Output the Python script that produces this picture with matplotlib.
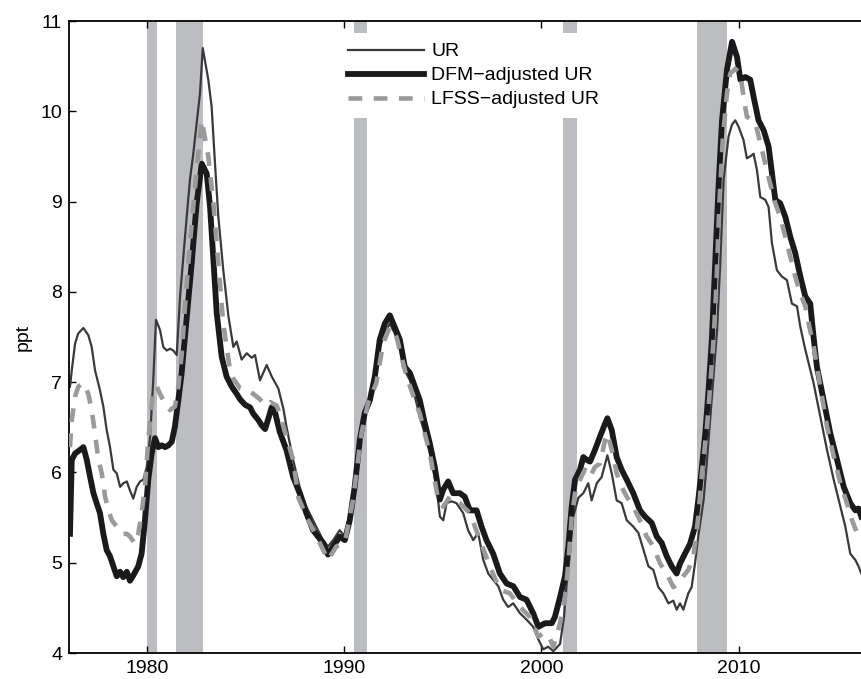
import matplotlib
matplotlib.use("Agg")
import matplotlib.pyplot as plt

# values
ur_years = [1976.11, 1976.20, 1976.37, 1976.53, 1976.79, 1977.04, 1977.21, 1977.38, 1977.63, 1977.80,
            1977.97, 1978.14, 1978.31, 1978.48, 1978.65, 1978.81, 1978.99, 1979.15, 1979.32, 1979.49,
            1979.66, 1979.83, 1980.00, 1980.17, 1980.33, 1980.47, 1980.67, 1980.84, 1981.01, 1981.18,
            1981.35, 1981.52, 1981.69, 1981.94, 1982.19, 1982.36, 1982.70, 1982.84, 1983.12, 1983.29,
            1983.46, 1983.63, 1983.88, 1984.14, 1984.39, 1984.56, 1984.81, 1985.07, 1985.32, 1985.49,
            1985.74, 1986.08, 1986.34, 1986.67, 1986.93, 1987.08, 1987.42, 1987.75, 1988.09, 1988.43,
            1988.68, 1988.94, 1989.19, 1989.45, 1989.78, 1990.04, 1990.29, 1990.54, 1990.80, 1991.05,
            1991.31, 1991.56, 1991.81, 1992.07, 1992.32, 1992.57, 1992.83, 1993.08, 1993.34, 1993.59,
            1993.84, 1994.18, 1994.43, 1994.69, 1994.86, 1995.03, 1995.20, 1995.45, 1995.70, 1996.04,
            1996.29, 1996.55, 1996.80, 1997.06, 1997.31, 1997.56, 1997.82, 1998.07, 1998.32, 1998.58,
            1998.92, 1999.25, 1999.59, 1999.85, 2000.10, 2000.35, 2000.61, 2000.95, 2001.15, 2001.28,
            2001.45, 2001.62, 2001.88, 2002.13, 2002.38, 2002.55, 2002.81, 2003.06, 2003.35, 2003.57,
            2003.82, 2004.07, 2004.33, 2004.66, 2004.92, 2005.18, 2005.43, 2005.68, 2005.93, 2006.19,
            2006.44, 2006.69, 2006.86, 2007.03, 2007.20, 2007.45, 2007.62, 2007.79, 2007.96, 2008.23,
            2008.40, 2008.57, 2008.74, 2008.91, 2009.07, 2009.24, 2009.49, 2009.66, 2009.83, 2010.00,
            2010.25, 2010.42, 2010.59, 2010.76, 2010.93, 2011.10, 2011.35, 2011.52, 2011.69, 2011.94,
            2012.19, 2012.45, 2012.70, 2012.96, 2013.13, 2013.38, 2013.80, 2014.14, 2014.48, 2014.82,
            2015.16, 2015.41, 2015.66, 2015.92, 2016.08, 2016.22]
ur_values = [6.95, 7.13, 7.43, 7.54, 7.60, 7.52, 7.39, 7.13, 6.91, 6.73,
             6.47, 6.28, 6.03, 5.99, 5.84, 5.88, 5.90, 5.80, 5.71, 5.84,
             5.90, 5.92, 6.06, 6.39, 7.02, 7.69, 7.58, 7.39, 7.35, 7.37,
             7.35, 7.30, 7.95, 8.61, 9.24, 9.53, 10.20, 10.70, 10.35, 10.05,
             9.42, 8.83, 8.24, 7.73, 7.39, 7.45, 7.25, 7.32, 7.27, 7.30,
             7.02, 7.19, 7.06, 6.93, 6.70, 6.51, 6.14, 5.84, 5.62, 5.47,
             5.36, 5.25, 5.18, 5.25, 5.36, 5.29, 5.55, 5.92, 6.40, 6.69,
             6.77, 6.99, 7.39, 7.54, 7.65, 7.54, 7.39, 7.13, 7.02, 6.84,
             6.62, 6.36, 6.14, 5.84, 5.51, 5.47, 5.66, 5.68, 5.66, 5.55,
             5.36, 5.25, 5.33, 5.03, 4.88, 4.81, 4.74, 4.59, 4.51, 4.55,
             4.44, 4.37, 4.29, 4.15, 4.04, 4.07, 4.02, 4.10, 4.40, 4.75,
             5.10, 5.51, 5.72, 5.77, 5.88, 5.69, 5.88, 5.95, 6.19, 5.99,
             5.69, 5.66, 5.47, 5.40, 5.33, 5.14, 4.96, 4.92, 4.73, 4.66,
             4.55, 4.58, 4.48, 4.55, 4.48, 4.66, 4.73, 4.99, 5.30, 5.70,
             6.14, 6.62, 7.10, 7.58, 8.32, 9.24, 9.72, 9.85, 9.90, 9.83,
             9.68, 9.48, 9.50, 9.53, 9.35, 9.05, 9.02, 8.94, 8.54, 8.24,
             8.17, 8.13, 7.87, 7.84, 7.61, 7.36, 6.99, 6.62, 6.25, 5.92,
             5.62, 5.40, 5.10, 5.03, 4.96, 4.88]

dfm_years = [1976.11, 1976.20, 1976.37, 1976.62, 1976.79, 1976.96, 1977.13, 1977.30, 1977.46, 1977.63,
             1977.80, 1977.97, 1978.14, 1978.31, 1978.48, 1978.65, 1978.81, 1978.99, 1979.15, 1979.32,
             1979.57, 1979.74, 1979.91, 1980.08, 1980.25, 1980.42, 1980.59, 1980.76, 1980.93, 1981.10,
             1981.27, 1981.43, 1981.60, 1981.77, 1982.00, 1982.28, 1982.53, 1982.79, 1983.04, 1983.21,
             1983.38, 1983.55, 1983.80, 1984.05, 1984.31, 1984.56, 1984.73, 1984.98, 1985.24, 1985.40,
             1985.66, 1985.83, 1986.00, 1986.17, 1986.33, 1986.50, 1986.74, 1987.08, 1987.42, 1987.75,
             1988.09, 1988.43, 1988.68, 1988.94, 1989.19, 1989.45, 1989.78, 1990.04, 1990.29, 1990.54,
             1990.80, 1991.05, 1991.31, 1991.56, 1991.81, 1992.07, 1992.32, 1992.57, 1992.83, 1993.08,
             1993.34, 1993.59, 1993.84, 1994.10, 1994.35, 1994.60, 1994.86, 1995.03, 1995.28, 1995.53,
             1995.87, 1996.12, 1996.38, 1996.72, 1996.97, 1997.22, 1997.56, 1997.90, 1998.24, 1998.58,
             1998.92, 1999.25, 1999.59, 1999.85, 2000.19, 2000.53, 2000.69, 2000.95, 2001.20, 2001.37,
             2001.54, 2001.71, 2001.96, 2002.13, 2002.30, 2002.47, 2002.72, 2002.98, 2003.23, 2003.35,
             2003.57, 2003.82, 2004.07, 2004.33, 2004.66, 2005.00, 2005.26, 2005.60, 2005.85, 2006.10,
             2006.36, 2006.61, 2006.86, 2007.03, 2007.28, 2007.54, 2007.79, 2007.97, 2008.14, 2008.31,
             2008.48, 2008.65, 2008.82, 2008.99, 2009.16, 2009.41, 2009.67, 2009.92, 2010.09, 2010.34,
             2010.59, 2010.76, 2011.01, 2011.27, 2011.52, 2011.69, 2011.86, 2012.11, 2012.37, 2012.62,
             2012.87, 2013.13, 2013.38, 2013.63, 2013.80, 2013.97, 2014.31, 2014.65, 2014.99, 2015.33,
             2015.66, 2015.92, 2016.08, 2016.22]
dfm_values = [5.32, 6.14, 6.21, 6.25, 6.28, 6.14, 5.95, 5.77, 5.66, 5.55,
              5.32, 5.14, 5.07, 4.96, 4.85, 4.90, 4.84, 4.90, 4.80, 4.86,
              4.96, 5.10, 5.47, 5.92, 6.21, 6.38, 6.28, 6.30, 6.28, 6.30,
              6.34, 6.51, 6.80, 7.10, 7.65, 8.32, 8.98, 9.42, 9.31, 8.94,
              8.35, 7.76, 7.28, 7.06, 6.95, 6.87, 6.81, 6.75, 6.72, 6.65,
              6.58, 6.52, 6.48, 6.60, 6.72, 6.67, 6.45, 6.25, 5.95, 5.77,
              5.55, 5.36, 5.29, 5.22, 5.09, 5.18, 5.29, 5.25, 5.47, 5.84,
              6.36, 6.66, 6.80, 7.06, 7.47, 7.65, 7.74, 7.61, 7.47, 7.17,
              7.10, 6.95, 6.80, 6.54, 6.32, 6.06, 5.70, 5.81, 5.90, 5.77,
              5.77, 5.73, 5.58, 5.58, 5.40, 5.25, 5.10, 4.88, 4.77, 4.74,
              4.62, 4.59, 4.44, 4.29, 4.33, 4.33, 4.40, 4.62, 4.85, 5.18,
              5.62, 5.92, 6.03, 6.17, 6.14, 6.12, 6.25, 6.40, 6.54, 6.60,
              6.47, 6.17, 6.03, 5.92, 5.77, 5.58, 5.51, 5.44, 5.29, 5.22,
              5.07, 4.96, 4.88, 4.99, 5.10, 5.21, 5.40, 5.72, 6.06, 6.43,
              6.92, 7.50, 8.35, 9.20, 9.90, 10.46, 10.77, 10.60, 10.35, 10.38,
              10.35, 10.16, 9.90, 9.79, 9.61, 9.31, 9.02, 8.98, 8.83, 8.61,
              8.43, 8.17, 7.95, 7.87, 7.50, 7.17, 6.80, 6.43, 6.14, 5.84,
              5.66, 5.58, 5.60, 5.51]

lfss_years = [1976.11, 1976.20, 1976.37, 1976.53, 1976.79, 1977.04, 1977.21, 1977.38, 1977.55, 1977.72,
              1977.89, 1978.06, 1978.23, 1978.48, 1978.73, 1978.99, 1979.15, 1979.41, 1979.57, 1979.74,
              1979.91, 1980.08, 1980.33, 1980.51, 1980.67, 1980.93, 1981.18, 1981.43, 1981.60, 1981.77,
              1981.94, 1982.19, 1982.53, 1982.79, 1983.12, 1983.38, 1983.63, 1983.88, 1984.22, 1984.39,
              1984.73, 1985.07, 1985.40, 1985.74, 1986.00, 1986.25, 1986.59, 1986.74, 1987.42, 1987.69,
              1988.09, 1988.77, 1989.19, 1989.61, 1990.04, 1990.46, 1990.88, 1991.22, 1991.64, 1991.98,
              1992.32, 1992.66, 1993.17, 1993.84, 1994.35, 1994.77, 1995.03, 1995.36, 1995.87, 1996.38,
              1996.89, 1997.39, 1997.90, 1998.41, 1998.92, 1999.42, 1999.85, 2000.10, 2000.35, 2000.61,
              2000.95, 2001.20, 2001.37, 2001.54, 2001.71, 2001.96, 2002.21, 2002.47, 2002.72, 2002.98,
              2003.23, 2003.35, 2003.57, 2003.82, 2004.07, 2004.33, 2004.66, 2005.00, 2005.34, 2005.68,
              2006.02, 2006.36, 2006.69, 2006.95, 2007.20, 2007.45, 2007.71, 2007.96, 2008.14, 2008.40,
              2008.57, 2008.74, 2008.88, 2009.03, 2009.20, 2009.41, 2009.58, 2009.83, 2010.09, 2010.25,
              2010.42, 2010.68, 2010.85, 2011.10, 2011.35, 2011.60, 2011.86, 2012.11, 2012.37, 2012.62,
              2012.87, 2013.13, 2013.38, 2013.55, 2013.80, 2014.14, 2014.48, 2014.82, 2015.16, 2015.49,
              2015.75, 2016.00, 2016.22]
lfss_values = [6.28, 6.58, 6.84, 6.95, 6.99, 6.87, 6.69, 6.43, 6.14, 5.99,
               5.73, 5.58, 5.47, 5.40, 5.32, 5.32, 5.29, 5.21, 5.32, 5.55,
               5.84, 6.36, 6.91, 6.95, 6.87, 6.76, 6.69, 6.73, 6.95, 7.30,
               7.84, 8.54, 9.35, 9.90, 9.50, 8.98, 8.32, 7.65, 7.13, 7.04,
               6.93, 6.91, 6.87, 6.81, 6.74, 6.78, 6.74, 6.65, 6.14, 5.72,
               5.51, 5.22, 5.03, 5.18, 5.22, 5.70, 6.43, 6.77, 6.99, 7.43,
               7.61, 7.50, 7.06, 6.65, 6.21, 5.70, 5.62, 5.73, 5.66, 5.55,
               5.25, 4.96, 4.70, 4.66, 4.51, 4.40, 4.18, 4.22, 4.20, 4.07,
               4.33, 4.62, 4.99, 5.51, 5.77, 5.92, 6.03, 5.95, 6.06, 6.10,
               6.36, 6.43, 6.25, 5.99, 5.84, 5.73, 5.62, 5.47, 5.29, 5.18,
               4.99, 4.88, 4.73, 4.77, 4.85, 4.92, 5.07, 5.51, 5.99, 6.51,
               6.99, 7.50, 8.10, 9.00, 9.70, 10.20, 10.42, 10.47, 10.42, 10.16,
               9.94, 9.90, 9.87, 9.65, 9.42, 9.20, 8.98, 8.83, 8.61, 8.39,
               8.17, 7.98, 7.84, 7.65, 7.40, 6.95, 6.51, 6.18, 5.88, 5.66,
               5.47, 5.33, 5.29]

# NBER recessions (start, end)
recessions = [(1980.0, 1980.5), (1981.5, 1982.85), (1990.5, 1991.17),
              (2001.12, 2001.8), (2007.9, 2009.42)]

plt.rcParams['font.family'] = ['Liberation Sans', 'DejaVu Sans']
plt.rcParams['font.size'] = 14

fig = plt.figure(figsize=(8.61, 6.79), dpi=100)
# axes run past the right edge of the figure, like the cropped original
ax = fig.add_axes([69 / 861, 26 / 679, 807.7 / 861, 632 / 679])

for start, end in recessions:
    ax.axvspan(start, end, color='#bcbdc1', lw=0, zorder=0)

ax.plot(ur_years, ur_values, color='#3a3a3a', lw=1.6, label='UR', zorder=2)
ax.plot(dfm_years, dfm_values, color='#1a1a1a', lw=4.2, label='DFM\u2212adjusted UR', zorder=3)
ax.plot(lfss_years, lfss_values, color='#9a9a9a', lw=3.3, linestyle=(0, (3, 2.5)),
        dash_capstyle='butt', label='LFSS\u2212adjusted UR', zorder=4)

ax.set_xlim(1976.06, 2017.0)
ax.set_ylim(4, 11)
ax.set_xticks([1980, 1990, 2000, 2010])
ax.set_yticks(range(4, 12))
ax.set_ylabel('ppt', labelpad=6)

ax.tick_params(direction='in', length=5, width=1, top=True, right=True, pad=5)
for side in ['left', 'bottom', 'top', 'right']:
    ax.spines[side].set_linewidth(1.3)

leg = ax.legend(loc='upper left', bbox_to_anchor=(0.334, 0.981), borderaxespad=0,
                frameon=True, facecolor='white', edgecolor='none', framealpha=1,
                fancybox=False, handlelength=3.9, handletextpad=0.35,
                labelspacing=0.33, borderpad=0.5, fontsize=14)
leg.set_zorder(5)

fig.savefig('out.png', dpi=100)
